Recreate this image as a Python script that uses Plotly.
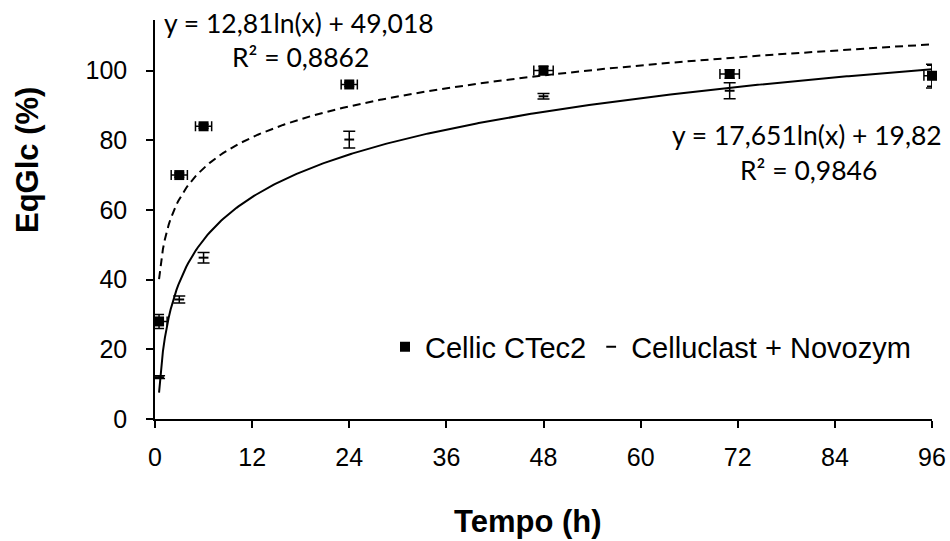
import numpy as np
import plotly.graph_objects as go

# Sampling times (h) and glucose-equivalent yields (%)
time_h = [0.5, 3, 6, 24, 48, 71, 96]

ctec2_y = [28, 70, 84, 96, 100, 99, 98.5]
ctec2_err_y = [2, 0.6, 0.6, 0.6, 1.2, 1.2, 3]
ctec2_err_x = [1, 1, 1, 1, 1.2, 1.2, 1]

celluclast_y = [12, 34.3, 46.3, 80.2, 92.6, 94.2, 98.4]
celluclast_err_y = [0.4, 1.0, 1.5, 2.4, 0.8, 2.3, 3.4]

# Logarithmic trend lines: y = a*ln(x) + b, with R²
ctec2_fit = (12.81, 49.018, 0.8862)
celluclast_fit = (17.651, 19.82, 0.9846)

x_ticks = [0, 12, 24, 36, 48, 60, 72, 84, 96]
y_ticks = [0, 20, 40, 60, 80, 100]

x_fit = np.linspace(0.5, 96, 400)

fig = go.Figure()

fig.add_trace(go.Scatter(
    x=x_fit, y=ctec2_fit[0] * np.log(x_fit) + ctec2_fit[1],
    mode="lines", line=dict(color="black", width=2, dash="8px,5px"),
    showlegend=False, hoverinfo="skip"))
fig.add_trace(go.Scatter(
    x=x_fit, y=celluclast_fit[0] * np.log(x_fit) + celluclast_fit[1],
    mode="lines", line=dict(color="black", width=2),
    showlegend=False, hoverinfo="skip"))

fig.add_trace(go.Scatter(
    x=time_h, y=ctec2_y, mode="markers", name="Cellic CTec2", cliponaxis=False,
    marker=dict(symbol="square", size=10, color="black"),
    error_y=dict(type="data", array=ctec2_err_y, color="black", thickness=1.5, width=5),
    error_x=dict(type="data", array=ctec2_err_x, color="black", thickness=1.5, width=5),
))
fig.add_trace(go.Scatter(
    x=time_h, y=celluclast_y, mode="markers", name="Celluclast + Novozym", cliponaxis=False,
    marker=dict(symbol="line-ew", size=7, color="black", line=dict(color="black", width=2)),
    error_y=dict(type="data", array=celluclast_err_y, color="black", thickness=1.5, width=6),
))

# pixel layout of the plotting area
L, R, T, B = 155, 18, 20, 122
W, H = 950, 541
pw, ph = W - L - R, H - T - B


def px(xp):
    return (xp - L) / pw


def py(yp):
    return (H - B - yp) / ph


def fmt(v):
    return f"{v}".replace(".", ",")


eq_font = dict(family="Lato, Carlito, Calibri, sans-serif", size=26.5, color="black")
equations = [
    (f"y = {fmt(ctec2_fit[0])}ln(x) + {fmt(ctec2_fit[1])}", 299, 23),
    (f"R² = {fmt(ctec2_fit[2])}", 300, 57),
    (f"y = {fmt(celluclast_fit[0])}ln(x) + {fmt(celluclast_fit[1])}", 807, 135),
    (f"R² = {fmt(celluclast_fit[2])}", 808, 170),
]
for text, xp, yp in equations:
    fig.add_annotation(x=px(xp), y=py(yp), xref="paper", yref="paper", text=text,
                       xanchor="center", yanchor="middle", showarrow=False, font=eq_font)

title_font = dict(family="Liberation Sans, Arial, sans-serif", size=31, color="black")
fig.add_annotation(x=px(528), y=py(521), xref="paper", yref="paper", text="<b>Tempo (h)</b>",
                   xanchor="center", yanchor="middle", showarrow=False, font=title_font)
fig.add_annotation(x=px(27), y=py(160), xref="paper", yref="paper", text="<b>EqGlc (%)</b>",
                   textangle=-90, xanchor="center", yanchor="middle", showarrow=False, font=title_font)

axis_font = dict(family="Liberation Sans, Arial, sans-serif", size=25, color="black")

fig.update_layout(
    width=W, height=H,
    margin=dict(l=L, r=R, t=T, b=B, autoexpand=False),
    paper_bgcolor="white", plot_bgcolor="white",
    legend=dict(x=px(385), y=py(347), xanchor="left", yanchor="middle",
                orientation="h", font=dict(family="Liberation Sans, Arial, sans-serif", size=29, color="black"),
                itemwidth=30, bgcolor="rgba(0,0,0,0)"),
    xaxis=dict(range=[0, 96], tickvals=x_ticks, ticktext=[str(t) for t in x_ticks],
               automargin=False,
               showgrid=False, zeroline=False, showline=True, linecolor="black", linewidth=1.5,
               ticks="outside", ticklen=7, tickwidth=1.5, tickcolor="black", tickfont=axis_font,
               ticklabelstandoff=8),
    yaxis=dict(range=[0, 114.5], tickvals=y_ticks, ticktext=[str(t) for t in y_ticks],
               automargin=False,
               showgrid=False, zeroline=False, showline=True, linecolor="black", linewidth=1.5,
               ticks="outside", ticklen=7, tickwidth=1.5, tickcolor="black", tickfont=axis_font,
               ticklabelstandoff=14),
)

fig.write_html("out.html")
